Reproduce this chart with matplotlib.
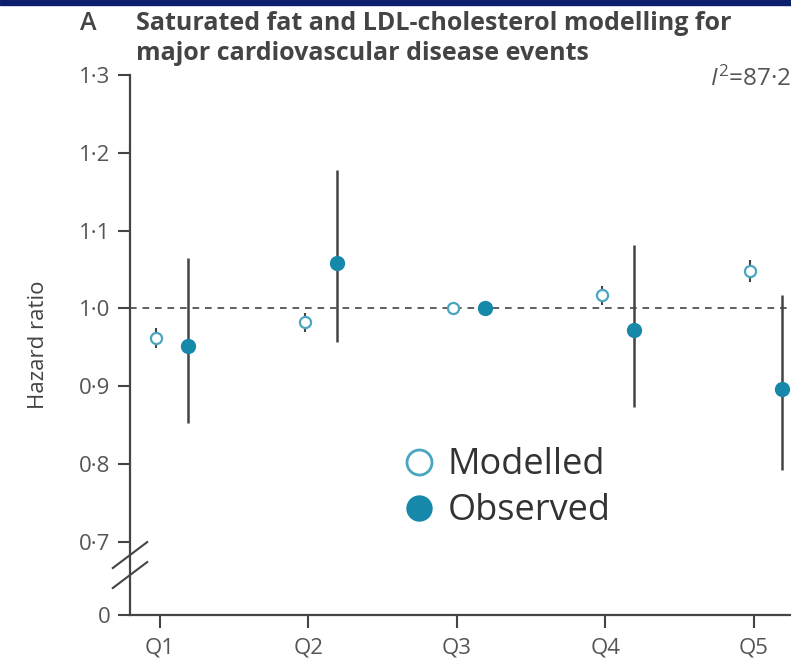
import numpy as np
import matplotlib.pyplot as plt
from matplotlib.lines import Line2D

plt.rcParams['font.family'] = ['Open Sans', 'DejaVu Sans']
plt.rcParams['mathtext.fontset'] = 'custom'
plt.rcParams['mathtext.rm'] = 'Open Sans'
plt.rcParams['mathtext.it'] = 'Open Sans:italic'

quintiles = ['Q1', 'Q2', 'Q3', 'Q4', 'Q5']
modelled = [0.962, 0.982, 1.0, 1.017, 1.048]
modelled_lo = [0.949, 0.970, 1.0, 1.005, 1.034]
modelled_hi = [0.975, 0.994, 1.0, 1.029, 1.062]
observed = [0.952, 1.058, 1.0, 0.972, 0.897]
observed_lo = [0.853, 0.957, 1.0, 0.873, 0.792]
observed_hi = [1.065, 1.178, 1.0, 1.082, 1.017]
ytick_vals = [0.606, 0.7, 0.8, 0.9, 1.0, 1.1, 1.2, 1.3]
ytick_text = ['0', '0·7', '0·8', '0·9', '1·0', '1·1', '1·2', '1·3']

teal = '#1688aa'
teal_light = '#4aa6c0'
dark = '#444444'
grey = '#555555'

W, H = 791, 661
fig = plt.figure(figsize=(W / 100, H / 100), dpi=100)
fig.patch.set_facecolor('white')

# navy strip along the top edge
fig.patches.append(plt.Rectangle((0, 1 - 5 / H), 1, 5 / H, transform=fig.transFigure,
                                 color='#0b1f6e', zorder=10))

ax = fig.add_axes([130 / W, (H - 615) / H, (W - 130) / W, 540 / H])
x = np.arange(1, len(quintiles) + 1)
xm = x - 0.025
xo = x + 0.19

ax.axhline(1.0, color=dark, lw=1.2, ls=(0, (4, 3.5)), zorder=1)

ax.vlines(xo, observed_lo, observed_hi, color=dark, lw=1.8, zorder=2)
ax.vlines(xm, modelled_lo, modelled_hi, color=dark, lw=1.5, zorder=2)
ax.plot(xm, modelled, 'o', ms=8, mfc='white', mec=teal_light, mew=1.6, ls='none', zorder=3)
ax.plot(xo, observed, 'o', ms=10, color=teal, ls='none', zorder=3)

ax.set_xlim(1 - 30 / 148.5, 5 + 37 / 148.5)
ax.set_ylim(0.606, 1.3)
ax.set_xticks(x)
ax.set_xticklabels(quintiles)
ax.set_yticks(ytick_vals)
ax.set_yticklabels(ytick_text)
ax.tick_params(axis='both', colors=dark, width=1.5, length=9, labelsize=16,
               labelcolor=grey)
ax.tick_params(axis='x', pad=7)
ax.tick_params(axis='y', pad=5)
for s in ['top', 'right']:
    ax.spines[s].set_visible(False)
for s in ['left', 'bottom']:
    ax.spines[s].set_color(dark)
    ax.spines[s].set_linewidth(1.6)

ax.set_ylabel('Hazard ratio', fontsize=16, color=dark, labelpad=22)

# axis break marks
for y0 in (0.050, 0.087):
    ax.plot([-0.026, 0.026], [y0, y0 + 0.048], transform=ax.transAxes,
            color=dark, lw=1.5, clip_on=False)

handles = [
    Line2D([], [], marker='o', ls='none', ms=18, mfc='white', mec=teal_light, mew=2),
    Line2D([], [], marker='o', ls='none', ms=18, color=teal),
]
leg = ax.legend(handles, ['Modelled', 'Observed'], loc='upper left',
                bbox_to_anchor=(0.36, 0.371), frameon=False, fontsize=26,
                handletextpad=0.3, labelspacing=0.28, handlelength=1.0)
for t in leg.get_texts():
    t.set_color('#333333')

fig.text(80 / W, 1 - 23 / H, 'A', fontsize=18, fontweight='semibold', color=dark,
         va='center')
fig.text(136 / W, 1 - 24 / H, 'Saturated fat and LDL-cholesterol modelling for',
         fontsize=18, fontweight='bold', color=dark, va='center')
fig.text(136 / W, 1 - 54 / H, 'major cardiovascular disease events',
         fontsize=18, fontweight='bold', color=dark, va='center')
fig.text(1.0, 1 - 79 / H, r'$I^{2}$=87·2', fontsize=17.5, color=grey,
         va='center', ha='right')

fig.savefig('out.png', dpi=100)
